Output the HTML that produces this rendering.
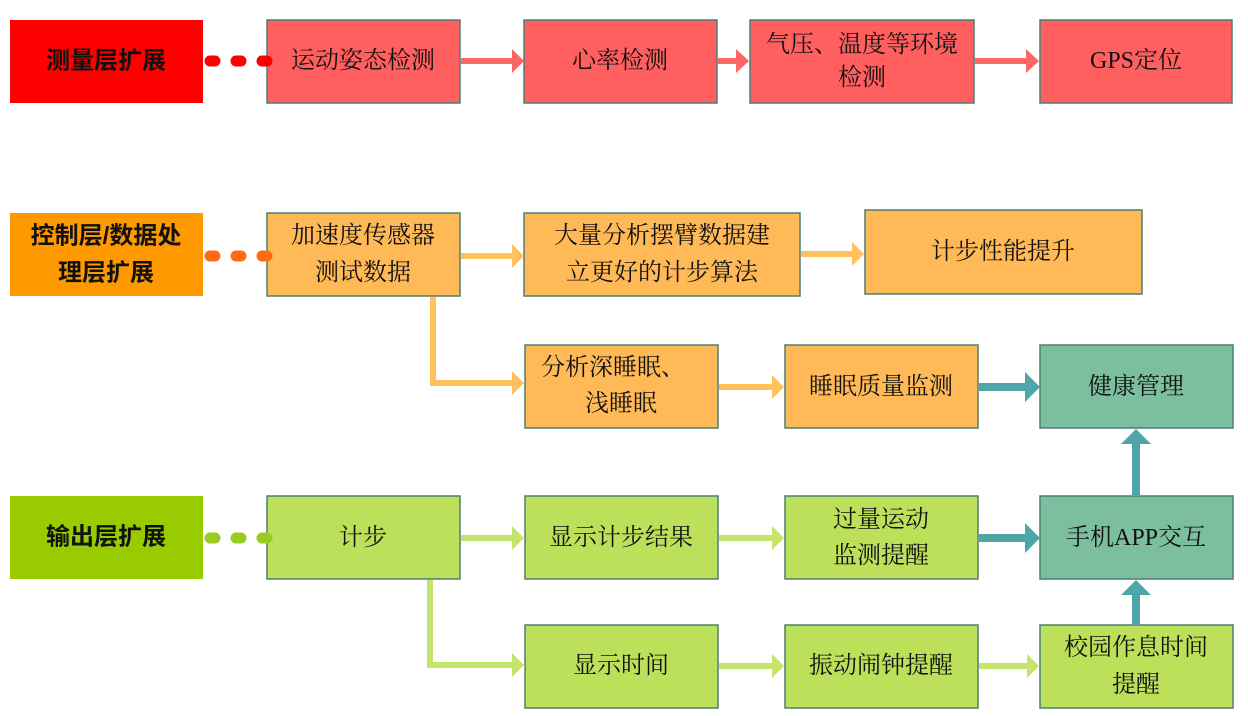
<!DOCTYPE html>
<html><head><meta charset="utf-8"><style>
html,body{margin:0;padding:0;background:#fff;}
svg{display:block;}
text{font-family:"Liberation Serif","Noto Serif CJK SC","Noto Sans CJK SC",serif;font-size:24px;fill:#111;text-anchor:middle;dominant-baseline:central;}
.b{font-family:"Liberation Sans","Noto Sans CJK SC",sans-serif;font-weight:bold;font-size:24px;}
</style></head><body>
<svg width="1248" height="716" viewBox="0 0 1248 716" xmlns="http://www.w3.org/2000/svg">
<rect x="10" y="20" width="193" height="83" fill="#FF0000"/>
<text class="b" x="106" y="61">测量层扩展</text>
<rect x="10" y="213" width="193" height="83" fill="#FF9900"/>
<text class="b" x="106" y="236">控制层/数据处</text>
<text class="b" x="106" y="273">理层扩展</text>
<rect x="10" y="496" width="193" height="83" fill="#99CC00"/>
<text class="b" x="106" y="537">输出层扩展</text>
<g stroke="#4E7F74" stroke-width="1.5" fill="#FF5F5F">
<rect x="267" y="20" width="193" height="83"/>
<rect x="524" y="20" width="193" height="83"/>
<rect x="750" y="20" width="224" height="83"/>
<rect x="1040" y="20" width="192" height="83"/>
</g>
<text x="363" y="61">运动姿态检测</text>
<text x="620" y="61">心率检测</text>
<text x="862" y="45">气压、温度等环境</text>
<text x="862" y="78">检测</text>
<text x="1136" y="61">GPS定位</text>
<g fill="#FF6666">
<rect x="461" y="58" width="53" height="6"/><polygon points="512,49 524,61 512,73"/>
<rect x="718" y="58" width="20" height="6"/><polygon points="736,49 749,61 736,73"/>
<rect x="975" y="58" width="53" height="6"/><polygon points="1026,49 1039,61 1026,73"/>
</g>
<g stroke="#4E7F74" stroke-width="1.5" fill="#FFB957">
<rect x="267" y="213" width="193" height="83"/>
<rect x="524" y="213" width="276" height="83"/>
<rect x="865" y="210" width="277" height="84"/>
<rect x="525" y="345" width="193" height="83"/>
<rect x="785" y="345" width="193" height="83"/>
</g>
<text x="363" y="236">加速度传感器</text>
<text x="363" y="273">测试数据</text>
<text x="662" y="236">大量分析摆臂数据建</text>
<text x="662" y="273">立更好的计步算法</text>
<text x="1003" y="252">计步性能提升</text>
<text x="613" y="368">分析深睡眠、</text>
<text x="621" y="404">浅睡眠</text>
<text x="881" y="387">睡眠质量监测</text>
<g fill="#FFC15E">
<rect x="461" y="253" width="52" height="6"/><polygon points="512,244 524,256 512,268"/>
<rect x="801" y="251" width="52" height="6"/><polygon points="852,242 864,254 852,266"/>
<rect x="430" y="297" width="6" height="89"/>
<rect x="430" y="380" width="83" height="6"/><polygon points="512,371 524,383 512,395"/>
<rect x="719" y="384" width="55" height="6"/><polygon points="772,375 784,387 772,399"/>
</g>
<g stroke="#4E7F74" stroke-width="1.5" fill="#7BBF9E">
<rect x="1040" y="345" width="193" height="83"/>
<rect x="1040" y="496" width="193" height="83"/>
</g>
<text x="1136" y="387">健康管理</text>
<text x="1136" y="538">手机APP交互</text>
<g stroke="#4E7F74" stroke-width="1.5" fill="#BDE05B">
<rect x="267" y="496" width="193" height="83"/>
<rect x="525" y="496" width="193" height="83"/>
<rect x="785" y="496" width="193" height="83"/>
<rect x="525" y="625" width="193" height="83"/>
<rect x="785" y="625" width="193" height="83"/>
<rect x="1040" y="625" width="193" height="83"/>
</g>
<text x="363" y="538">计步</text>
<text x="621" y="538">显示计步结果</text>
<text x="881" y="520">过量运动</text>
<text x="881" y="556">监测提醒</text>
<text x="621" y="666">显示时间</text>
<text x="881" y="666">振动闹钟提醒</text>
<text x="1136" y="648">校园作息时间</text>
<text x="1136" y="685">提醒</text>
<g fill="#C5E46C">
<rect x="461" y="535" width="52" height="6"/><polygon points="512,526 524,538 512,550"/>
<rect x="719" y="535" width="55" height="6"/><polygon points="772,526 784,538 772,550"/>
<rect x="427" y="580" width="6" height="88"/>
<rect x="427" y="662" width="86" height="6"/><polygon points="512,653 524,665 512,677"/>
<rect x="719" y="663" width="55" height="6"/><polygon points="772,654 784,666 772,678"/>
<rect x="979" y="663" width="50" height="6"/><polygon points="1027,654 1039,666 1027,678"/>
</g>
<g fill="#4FA6A8">
<rect x="979" y="383" width="50" height="8"/><polygon points="1025,372 1040,387 1025,402"/>
<rect x="979" y="534" width="50" height="8"/><polygon points="1025,523 1040,538 1025,553"/>
<rect x="1132" y="443" width="8" height="52"/><polygon points="1121,444 1136,429 1151,444"/>
<rect x="1132" y="594" width="8" height="31"/><polygon points="1121,595 1136,580 1151,595"/>
</g>
<g stroke-width="11" stroke-linecap="round" stroke-dasharray="5 21">
<line x1="210" y1="61" x2="270" y2="61" stroke="#FF0000"/>
<line x1="210" y1="256" x2="270" y2="256" stroke="#FF6A13"/>
<line x1="210" y1="538" x2="270" y2="538" stroke="#99CC22"/>
</g>
</svg>
</body></html>
